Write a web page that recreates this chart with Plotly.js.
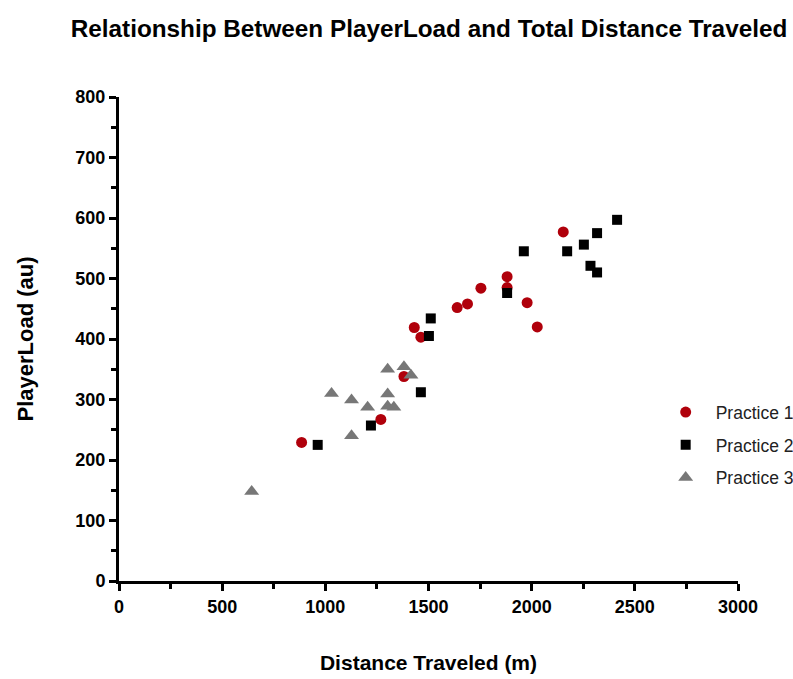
<!DOCTYPE html>
<html>
<head>
<meta charset="utf-8">
<script src="https://cdn.plot.ly/plotly-3.0.1.min.js"></script>
<style>html,body{margin:0;padding:0;background:#fff;}#chart{width:793px;height:679px;}</style>
</head>
<body>
<div id="chart"></div>
<script>
// Practice 1 (red circles)
const p1Distance = [885, 1269, 1381, 1431, 1463, 1639, 1689, 1754, 1881, 1881, 1978, 2027, 2153];
const p1Load     = [229, 267, 338, 419, 403, 452, 458, 484, 503, 485, 460, 420, 577];
// Practice 2 (black squares)
const p2Distance = [963, 1221, 1463, 1502, 1511, 1881, 1962, 2172, 2253, 2317, 2285, 2317, 2414];
const p2Load     = [225, 257, 312, 405, 434, 476, 545, 545, 556, 575, 521, 510, 597];
// Practice 3 (gray triangles)
const p3Distance = [643, 1030, 1127, 1127, 1205, 1302, 1302, 1332, 1302, 1381, 1415];
const p3Load     = [148, 310, 299, 240, 287, 309, 289, 287, 350, 354, 340];

const seriesNames = ["Practice 1", "Practice 2", "Practice 3"];

const FONT = "Liberation Sans, Arial, sans-serif";

const traces = [
  {x: p1Distance, y: p1Load, name: seriesNames[0], type: "scatter", mode: "markers",
   legendgroup: "g1", marker: {symbol: "circle", size: 11, color: "#b0000b"}},
  {x: p2Distance, y: p2Load, name: seriesNames[1], type: "scatter", mode: "markers",
   legendgroup: "g2", marker: {symbol: "square", size: 10, color: "#000000"}},
  {x: p3Distance, y: p3Load, name: seriesNames[2], type: "scatter", mode: "markers",
   legendgroup: "g3", marker: {symbol: "triangle-up", size: 13, color: "#777777"}}
];

const layout = {
  width: 793, height: 679,
  paper_bgcolor: "#fff", plot_bgcolor: "#fff",
  margin: {l: 119, r: 55, t: 97, b: 98, autoexpand: false},
  title: {text: "<b>Relationship Between PlayerLoad and Total Distance Traveled</b>",
          font: {family: FONT, size: 24.3, color: "#000"}, x: 0.541, xanchor: "center", y: 0.958, yanchor: "middle"},
  showlegend: true,
  legend: {x: 0.867, xanchor: "left", y: 0.386, yanchor: "top", bgcolor: "rgba(0,0,0,0)",
           font: {family: FONT, size: 17.5, color: "#222"}, tracegroupgap: 7, itemwidth: 50},
  xaxis: {
    range: [0, 3000], tick0: 0, dtick: 500, showgrid: false, zeroline: false,
    showline: true, linecolor: "#000", linewidth: 3,
    ticks: "outside", ticklen: 7, tickwidth: 3, tickcolor: "#000",
    minor: {dtick: 250, ticks: "outside", ticklen: 5, tickwidth: 3, tickcolor: "#000", showgrid: false},
    tickfont: {family: FONT, size: 18, color: "#000", weight: "bold"},
    title: {text: "<b>Distance Traveled (m)</b>", font: {family: FONT, size: 21, color: "#000"}, standoff: 40},
    automargin: false, fixedrange: true
  },
  yaxis: {
    range: [0, 800], tick0: 0, dtick: 100, showgrid: false, zeroline: false,
    showline: true, linecolor: "#000", linewidth: 3,
    ticks: "outside", ticklen: 7, tickwidth: 3, tickcolor: "#000",
    minor: {dtick: 50, ticks: "outside", ticklen: 5, tickwidth: 3, tickcolor: "#000", showgrid: false},
    tickfont: {family: FONT, size: 18, color: "#000", weight: "bold"},
    title: {text: "<b>PlayerLoad (au)</b>", font: {family: FONT, size: 22, color: "#000"}, standoff: 36},
    automargin: false, fixedrange: true
  }
};

Plotly.newPlot("chart", traces, layout, {displayModeBar: false, staticPlot: true});
</script>
</body>
</html>
